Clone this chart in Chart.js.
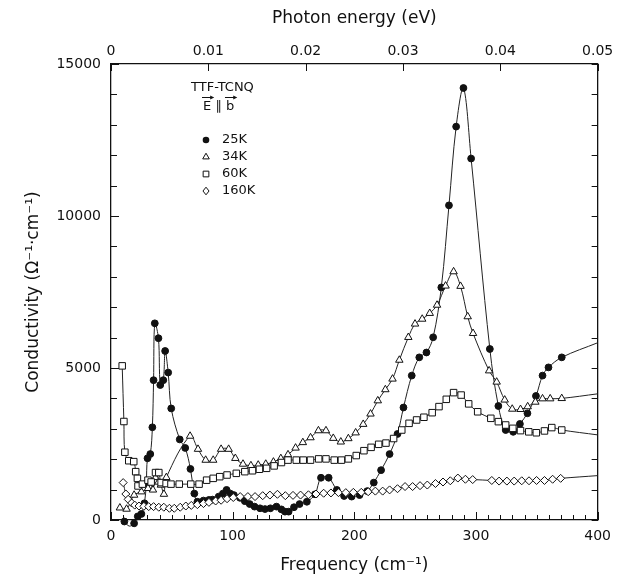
<!DOCTYPE html>
<html><head><meta charset="utf-8">
<script src="https://cdn.jsdelivr.net/npm/chart.js@4.4.0/dist/chart.umd.min.js"></script>
<style>html,body{margin:0;padding:0;background:#fff;}canvas{display:block;}</style>
</head><body>
<canvas id="c" width="619" height="580"></canvas>
<script>
// ---- data (frequency in cm^-1, conductivity in ohm^-1 cm^-1) ----
const freq25K = [11,15,19,22,25,27.5,29,30,32.3,34,35,36,39,40.5,43,44.5,47,49.5,56.5,61,65.3,68.5,71,76,80.5,83.5,88.5,92,95,98,101,106,110,114,118,122.5,126.6,131,136,140,143,146,150.4,155,161,167.7,172.6,178.9,185.6,191.6,197.8,204.3,210.6,216,222,229,235.5,240.4,247.2,253.4,259.3,264.8,271.5,277.8,283.7,289.7,296,311.4,318.4,324.4,330.6,336.1,342.3,349.3,354.7,359.6,370.5,400];
const cond25K = [-50,-200,-110,120,200,550,1200,2030,2170,3050,4600,6470,5980,4440,4600,5560,4850,3670,2650,2370,1680,870,600,640,660,670,770,870,990,870,820,730,620,525,440,385,360,385,440,350,275,275,420,525,600,845,1390,1390,990,790,770,820,950,1230,1640,2170,2830,3700,4750,5350,5510,6010,7650,10350,12940,14210,11890,5625,3750,2960,2900,3160,3510,4080,4750,5020,5350,5830];

const freq34K = [7.3,12.8,19,25,30.4,32.3,34.5,36.5,39,41,43.5,45.5,65,71.5,77.8,84,90.5,96.7,102.2,108.5,115,121,127.2,133.5,139.6,145.5,151.7,157.7,164,170.5,176.7,182.7,188.9,195.1,201.1,207.3,213.3,219.3,225.5,231.4,237,244.4,249.9,255.8,262,268,275,281.6,287.3,293.2,297.6,310.8,317,323.6,329.8,336.6,342.5,348.8,354.7,361,370.5,400];
const cond34K = [400,360,820,930,1040,1260,990,1400,1250,1150,850,1400,2760,2330,1970,1970,2330,2330,2030,1840,1790,1810,1840,1910,2025,2150,2370,2550,2710,2940,2940,2690,2570,2680,2870,3150,3490,3925,4290,4640,5260,6010,6450,6610,6800,7070,7700,8170,7690,6690,6140,4910,4540,3950,3650,3640,3730,3880,3990,3990,4000,4150];

const freq60K = [9.2,10.6,11.4,14.6,18.7,20.3,21.7,22.2,25.8,30.4,33,36.6,39.3,41.2,45.3,49.3,56.1,65.6,72.4,78.6,84,89.4,95.4,103,110,116.3,122,127.9,134.1,140.1,145.5,152.3,158,164,170.7,176.7,183.5,189.4,195.1,201.6,207.9,213.8,220,226,232.3,239,245,251.2,257.2,264,269.6,275.6,281.6,287.8,294,301.4,312.2,318.4,324.4,330.3,336.6,343.4,349.6,356.3,362.3,370.5,400];
const cond60K = [5070,3240,2230,1950,1920,1590,1370,1120,1180,1310,1250,1560,1560,1230,1200,1180,1180,1180,1180,1310,1370,1425,1480,1535,1590,1620,1670,1700,1780,1890,1970,1970,1970,1970,2010,2010,1970,1970,2010,2120,2280,2390,2490,2530,2680,2960,3180,3290,3380,3530,3730,3970,4190,4110,3820,3560,3345,3235,3125,3015,2940,2900,2870,2930,3040,2960,2800];

const freq160K = [10,12.2,14.1,17,19.5,23,27,31,35,39.3,43.4,48,52,56.9,61.5,66,71,76,80.5,86,90.5,95.4,100.5,106.2,112.5,118.4,124.7,130.6,136.8,143.3,149.6,155.8,162.3,168.5,174.8,180.8,187,193,199.2,205.7,211.4,217.3,223.3,229,235.5,241.7,247.9,254,260,266.7,272.9,278.9,285.1,291.3,297.3,313,319,325.4,331.4,337.6,343.6,349.8,356.3,363,369.6,400];
const cond160K = [1230,855,680,560,490,460,450,440,440,420,420,385,385,420,460,480,505,540,580,625,650,700,740,770,770,770,800,820,845,800,810,820,830,855,880,890,900,900,910,910,930,950,950,990,1030,1100,1100,1130,1150,1200,1250,1290,1380,1340,1330,1300,1280,1280,1280,1290,1290,1300,1300,1340,1370,1460];

const seriesLabels = ['25K','34K','60K','160K'];
const freqTickLabels = [0,100,200,300,400];
const condTickLabels = [0,5000,10000,15000];
const energyTickLabels = ['0','0.01','0.02','0.03','0.04','0.05'];

const FONT = "'DejaVu Sans', sans-serif";

function pts(xs, ys){ return xs.map((x,i)=>({x:x, y:ys[i]})); }
// last point of each series is the end of the drawn curve, without a marker
function lastNoMarker(r){ return ctx => (ctx.dataIndex === ctx.dataset.data.length-1 ? 0 : r); }

function ds(label, xs, ys, style, r, fill){
  return {
    label, data: pts(xs, ys), pointStyle: style,
    pointRadius: lastNoMarker(r), pointHoverRadius: lastNoMarker(r),
    pointBackgroundColor: fill, pointBorderColor: '#111', pointBorderWidth: 1,
    borderColor: '#222', borderWidth: 1, tension: 0.35, clip: false, fill: false
  };
}

const inwardTicks = {
  id: 'inwardTicks',
  afterDraw(chart){
    const c = chart.ctx, a = chart.chartArea, s = chart.scales;
    c.save();
    c.strokeStyle = '#111'; c.lineWidth = 1;
    c.beginPath();
    s.x.ticks.forEach(t => {
      const p = Math.round(s.x.getPixelForValue(t.value)) + 0.5;
      const len = freqTickLabels.includes(Math.round(t.value)) ? 8 : 5;
      c.moveTo(p, a.bottom); c.lineTo(p, a.bottom - len);
    });
    s.xTop.ticks.forEach(t => {
      const p = Math.round(s.xTop.getPixelForValue(t.value)) + 0.5;
      c.moveTo(p, a.top); c.lineTo(p, a.top + 7);
    });
    s.y.ticks.forEach(t => {
      const p = Math.round(s.y.getPixelForValue(t.value)) + 0.5;
      const len = condTickLabels.includes(Math.round(t.value)) ? 8 : 6;
      c.moveTo(a.left, p); c.lineTo(a.left + len, p);
    });
    s.yRight.ticks.forEach(t => {
      const p = Math.round(s.yRight.getPixelForValue(t.value)) + 0.5;
      c.moveTo(a.right, p); c.lineTo(a.right - 6, p);
    });
    c.stroke();
    c.restore();
  }
};

function marker(c, style, x, y, r){
  c.beginPath();
  if (style === 'circle') { c.arc(x, y, r, 0, Math.PI*2); c.fillStyle = '#111'; c.fill(); return; }
  if (style === 'triangle') { c.moveTo(x, y - r); c.lineTo(x + r*0.87, y + r*0.5); c.lineTo(x - r*0.87, y + r*0.5); c.closePath(); }
  if (style === 'rect') { const h = r*0.75; c.rect(x-h, y-h, 2*h, 2*h); }
  if (style === 'rectRot') { c.moveTo(x, y-r); c.lineTo(x+r*0.8, y); c.lineTo(x, y+r); c.lineTo(x-r*0.8, y); c.closePath(); }
  c.fillStyle = '#fff'; c.fill(); c.strokeStyle = '#111'; c.lineWidth = 1; c.stroke();
}

const legendNote = {
  id: 'legendNote',
  afterDraw(chart){
    const c = chart.ctx, a = chart.chartArea;
    const x0 = a.left + 80, tx = a.left + 111;
    c.save();
    c.fillStyle = '#111'; c.textBaseline = 'middle'; c.textAlign = 'left';
    c.font = `13px ${FONT}`;
    c.fillText('TTF-TCNQ', x0, a.top + 24);
    // E || b with vector arrows
    const ey = a.top + 43;
    const eTxt = 'E', pTxt = ' ∥ ', bTxt = 'b';
    const ex = x0 + 12;
    c.fillText(eTxt, ex, ey);
    const ew = c.measureText(eTxt).width, pw = c.measureText(pTxt).width, bw = c.measureText(bTxt).width;
    c.fillText(pTxt, ex + ew, ey);
    const bx = ex + ew + pw;
    c.fillText(bTxt, bx, ey);
    c.strokeStyle = '#111'; c.lineWidth = 1;
    [[ex, ew], [bx, bw]].forEach(([sx, w]) => {
      const ay = ey - 9.5;
      c.beginPath(); c.moveTo(sx - 1, ay); c.lineTo(sx + w + 2, ay); c.stroke();
      c.beginPath(); c.moveTo(sx + w + 3, ay); c.lineTo(sx + w - 1, ay - 2); c.lineTo(sx + w - 1, ay + 2); c.closePath(); c.fill();
    });
    const styles = ['circle','triangle','rect','rectRot'];
    const radii = [3.3, 3.8, 3.8, 3.8];
    seriesLabels.forEach((lab, i) => {
      const yy = a.top + 76 + i * 17;
      marker(c, styles[i], x0 + 15, yy, radii[i]);
      c.fillStyle = '#111';
      c.fillText(lab, tx, yy);
    });
    c.restore();
  }
};

new Chart(document.getElementById('c'), {
  type: 'line',
  data: {
    datasets: [
      ds(seriesLabels[3], freq160K, cond160K, 'rectRot', 4, '#fff'),
      ds(seriesLabels[2], freq60K, cond60K, 'rect', 4.6, '#fff'),
      ds(seriesLabels[1], freq34K, cond34K, 'triangle', 4.3, '#fff'),
      ds(seriesLabels[0], freq25K, cond25K, 'circle', 3.4, '#111')
    ]
  },
  options: {
    responsive: false, animation: false,
    layout: { padding: 0 },
    plugins: { legend: { display: false }, tooltip: { enabled: false } },
    scales: {
      x: {
        type: 'linear', position: 'bottom', min: 0, max: 400,
        afterFit: s => { s.height = 60; },
        grid: { display: false, drawTicks: false },
        border: { display: true, color: '#111', width: 1.3 },
        ticks: { stepSize: 10, autoSkip: false, maxRotation: 0, padding: 8, color: '#111',
          font: { family: FONT, size: 14 },
          callback: v => freqTickLabels.includes(Math.round(v)) ? String(Math.round(v)) : '' },
        title: { display: true, text: 'Frequency (cm⁻¹)', color: '#111',
          font: { family: FONT, size: 17 }, padding: { top: 0, bottom: 4 } }
      },
      xTop: {
        type: 'linear', position: 'top', min: 0, max: 0.05,
        afterFit: s => { s.height = 64; },
        grid: { display: false, drawTicks: false },
        border: { display: true, color: '#111', width: 1.3 },
        ticks: { stepSize: 0.01, autoSkip: false, maxRotation: 0, padding: 4, color: '#111',
          font: { family: FONT, size: 14 },
          callback: v => energyTickLabels[Math.round(v / 0.01)] },
        title: { display: true, text: 'Photon energy (eV)', color: '#111',
          font: { family: FONT, size: 17 }, padding: { top: 8, bottom: 0 } }
      },
      y: {
        type: 'linear', position: 'left', min: 0, max: 15000,
        afterFit: s => { s.width = 111; },
        grid: { display: false, drawTicks: false },
        border: { display: true, color: '#111', width: 1.3 },
        ticks: { stepSize: 1000, autoSkip: false, padding: 10, color: '#111',
          font: { family: FONT, size: 14 },
          callback: v => condTickLabels.includes(Math.round(v)) ? String(Math.round(v)) : '' },
        title: { display: true, text: 'Conductivity (Ω⁻¹·cm⁻¹)', color: '#111',
          font: { family: FONT, size: 17 }, padding: { top: 23, bottom: 0 } }
      },
      yRight: {
        type: 'linear', position: 'right', min: 0, max: 15000,
        afterFit: s => { s.width = 16; },
        grid: { display: false, drawTicks: false },
        border: { display: true, color: '#111', width: 1.3 },
        ticks: { stepSize: 1000, display: false }
      }
    }
  },
  plugins: [inwardTicks, legendNote]
});
</script>
</body></html>
